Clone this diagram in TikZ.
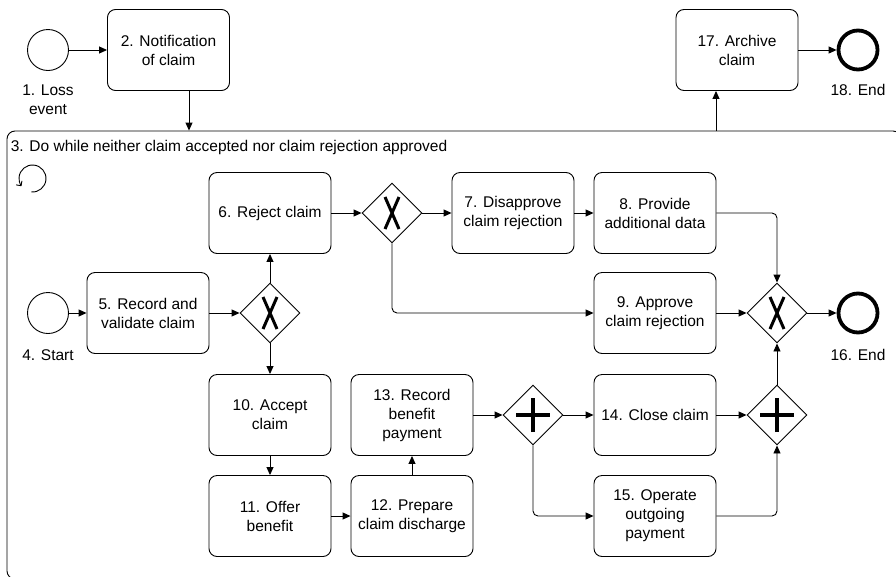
\documentclass[tikz,border=0pt]{standalone}
\usepackage{fontspec}
\setmainfont{Liberation Sans}
\usetikzlibrary{shapes.geometric,arrows.meta}

\begin{document}
\begin{tikzpicture}[x=1pt,y=-1pt,line width=0.9pt,
        font=\fontsize{15.5}{19}\selectfont,
        task/.style={draw,rounded corners=8pt,minimum width=122pt,minimum height=81pt,align=center,inner sep=2pt},
        event/.style={draw,circle,minimum size=41pt,inner sep=0pt},
        endevent/.style={event,line width=3.8pt,minimum size=39pt},
        gate/.style={draw,diamond,minimum width=60pt,minimum height=60pt,inner sep=0pt},
        flow/.style={-{Triangle[length=8pt,width=7pt]}},
        xcross/.style={line width=3pt},
        pluscross/.style={line width=4pt},
        lbl/.style={align=center}]
        \useasboundingbox (0,0) rectangle (896,576);

        \begin{scope}
        \clip (0,0) rectangle (896,576);
        \node [draw,rounded corners=8pt,minimum width=894pt,minimum height=448pt] (n3) at(454,355) {};
        \end{scope}
        \node [anchor=west] (n3lbl) at(7,147) {3. Do while neither claim accepted nor claim rejection approved};
        \coordinate (loop) at(32.5,178.5);
        \draw [-{Straight Barb[length=3.5pt,width=7pt]}] (loop) ++(95:13.5) arc [start angle=95,end angle=-215,radius=13.5];

        \node [event] (n1) at(48,50) {};
        \node [lbl] (n1lbl) at(48,100) {1. Loss\\event};
        \node [task] (n2) at(168.5,50) {2. Notification\\of claim};
        \node [task] (n17) at(737,50) {17. Archive\\claim};
        \node [endevent] (n18) at(858,50) {};
        \node [lbl] (n18lbl) at(858,90) {18. End};

        \node [event] (n4) at(48,313) {};
        \node [lbl] (n4lbl) at(48,355) {4. Start};
        \node [task] (n5) at(148,313) {5. Record and\\validate claim};
        \node [gate] (g1) at(270,313) {};
        \node [task] (n6) at(270,213) {6. Reject claim};
        \node [gate] (g2) at(392,213) {};
        \node [task] (n7) at(513,213) {7. Disapprove\\claim rejection};
        \node [task] (n8) at(655,213) {8. Provide\\additional data};
        \node [task] (n9) at(655,313) {9. Approve\\claim rejection};
        \node [gate] (g3) at(777,313) {};
        \node [endevent] (n16) at(858,313) {};
        \node [lbl] (n16lbl) at(858,355) {16. End};
        \node [task] (n10) at(270,415) {10. Accept\\claim};
        \node [task] (n11) at(270,516) {11. Offer\\benefit};
        \node [task] (n12) at(412,516) {12. Prepare\\claim discharge};
        \node [task] (n13) at(412,415) {13. Record\\benefit\\payment};
        \node [gate] (p1) at(533,415) {};
        \node [task] (n14) at(655,415) {14. Close claim};
        \node [task] (n15) at(655,516) {15. Operate\\outgoing\\payment};
        \node [gate] (p2) at(777,415) {};

        \foreach \g in {g1,g2,g3}
            \draw [xcross] ([shift={(-7,-16)}]\g.center) -- ([shift={(7,16)}]\g.center)
                ([shift={(7,-16)}]\g.center) -- ([shift={(-7,16)}]\g.center);
        \foreach \g in {p1,p2}
            \draw [pluscross] ([xshift=-17pt]\g.center) -- ([xshift=17pt]\g.center)
                ([yshift=-17pt]\g.center) -- ([yshift=17pt]\g.center);

        \coordinate (a2) at(189,91);
        \coordinate (a17) at(716,131);
        \draw [flow] (n1) -- (n2);
        \draw [flow] (a2) -- (a2 |- n3.north);
        \draw [flow] (a17) -- (a17 |- n17.south);
        \draw [flow] (n17) -- (n18);
        \draw [flow] (n4) -- (n5);
        \draw [flow] (n5) -- (g1);
        \draw [flow] (g1) -- (n6);
        \draw [flow] (g1) -- (n10);
        \draw [flow] (n6) -- (g2);
        \draw [flow] (g2) -- (n7);
        \draw [flow] (n7) -- (n8);
        \draw [flow,rounded corners=5pt] (n8.east) -| (g3.north);
        \draw [flow,rounded corners=5pt] (g2.south) |- (n9.west);
        \draw [flow] (n9) -- (g3);
        \draw [flow] (g3) -- (n16);
        \draw [flow] (n10) -- (n11);
        \draw [flow] (n11) -- (n12);
        \draw [flow] (n12) -- (n13);
        \draw [flow] (n13) -- (p1);
        \draw [flow] (p1) -- (n14);
        \draw [flow,rounded corners=5pt] (p1.south) |- (n15.west);
        \draw [flow] (n14) -- (p2);
        \draw [flow,rounded corners=5pt] (n15.east) -| (p2.south);
        \draw [flow] (p2) -- (g3);
\end{tikzpicture}
\end{document}
